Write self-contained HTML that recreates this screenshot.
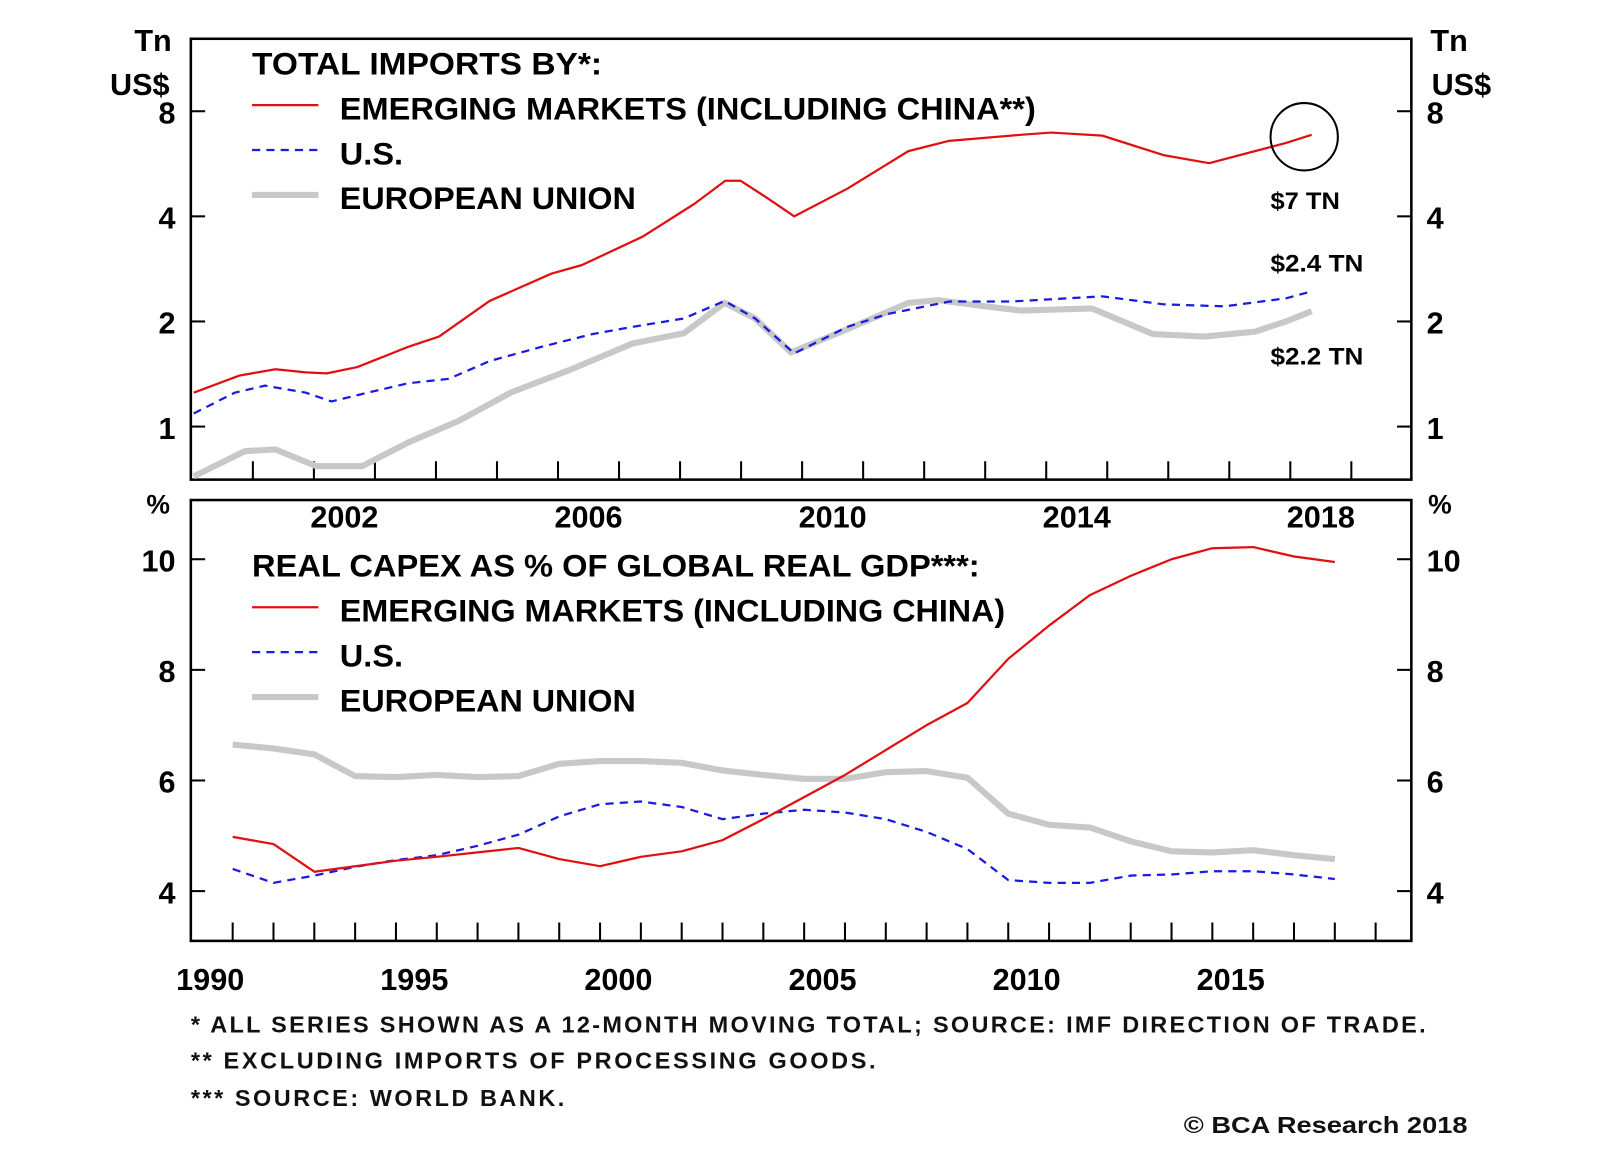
<!DOCTYPE html>
<html><head><meta charset="utf-8"><style>
body{margin:0;background:#fff;}
svg{display:block;font-family:"Liberation Sans",sans-serif;font-weight:bold;}
</style></head><body>
<svg id="c" width="1600" height="1152" viewBox="0 0 1600 1152"><g id="g" transform="scale(1.0205)"></g></svg>
<script>
// ---- Top panel data (Tn US$, log scale), x = fractional year ----
const topYearsEM=[2000.03,2000.78,2001.37,2001.87,2002.21,2002.71,2003.54,2004.05,2004.88,2005.89,2006.39,2007.39,2008.23,2008.74,2008.99,2009.40,2009.87,2010.74,2011.74,2012.41,2013.58,2014.08,2014.92,2015.92,2016.67,2017.42,2017.93,2018.35];
const topEM=[1.25,1.40,1.46,1.43,1.42,1.48,1.69,1.81,2.29,2.74,2.90,3.50,4.34,5.06,5.06,4.55,4.0,4.80,6.15,6.58,6.85,6.95,6.81,5.99,5.68,6.15,6.49,6.85];
const topYearsUS=[2000.03,2000.70,2001.20,2001.87,2002.29,2002.88,2003.54,2004.21,2004.88,2005.72,2006.56,2007.22,2008.06,2008.73,2009.23,2009.87,2010.74,2011.40,2012.41,2013.41,2014.92,2015.92,2016.92,2017.93,2018.35];
const topUS=[1.09,1.25,1.31,1.25,1.18,1.25,1.33,1.37,1.54,1.69,1.84,1.93,2.04,2.29,2.04,1.62,1.93,2.10,2.28,2.28,2.36,2.24,2.21,2.33,2.44];
const topYearsEU=[2000.03,2000.87,2001.37,2002.04,2002.79,2003.54,2004.38,2005.22,2006.22,2007.22,2008.06,2008.73,2009.23,2009.82,2010.74,2011.74,2012.24,2012.91,2013.58,2014.75,2015.75,2016.59,2017.42,2017.93,2018.35];
const topEU=[0.72,0.85,0.86,0.77,0.77,0.90,1.04,1.25,1.46,1.73,1.85,2.26,2.04,1.63,1.90,2.26,2.30,2.22,2.15,2.18,1.84,1.81,1.87,2.00,2.14];
const topTicks=[1,2,4,8];
const topXLabels=[2002,2006,2010,2014,2018];
// ---- Bottom panel data (% of GDP), annual ----
const botYears=[1990,1991,1992,1993,1994,1995,1996,1997,1998,1999,2000,2001,2002,2003,2004,2005,2006,2007,2008,2009,2010,2011,2012,2013,2014,2015,2016,2017];
const botEM=[4.98,4.85,4.35,4.45,4.55,4.62,4.70,4.78,4.58,4.45,4.62,4.72,4.92,5.30,5.70,6.10,6.55,7.00,7.40,8.20,8.80,9.35,9.70,10.0,10.2,10.22,10.05,9.95];
const botUS=[4.40,4.15,4.28,4.44,4.56,4.65,4.82,5.02,5.35,5.57,5.62,5.52,5.30,5.40,5.47,5.42,5.30,5.07,4.76,4.20,4.15,4.15,4.28,4.30,4.36,4.36,4.30,4.22];
const botEU=[6.65,6.58,6.47,6.08,6.06,6.10,6.06,6.08,6.30,6.35,6.35,6.32,6.18,6.10,6.03,6.03,6.15,6.17,6.05,5.40,5.20,5.15,4.90,4.72,4.70,4.74,4.65,4.58];
const botTicks=[4,6,8,10];
const botXLabels=[1990,1995,2000,2005,2010,2015];

const NS="http://www.w3.org/2000/svg";
const svg=document.getElementById('g');
function el(t,a,txt){const e=document.createElementNS(NS,t);for(const k in a)e.setAttribute(k,a[k]);if(txt!==undefined)e.textContent=txt;svg.appendChild(e);return e;}
const L=187,R=1383;
const tx=y=>188+59.8*(y-2000);
const ty=v=>418-103*Math.log2(v);
const bx=y=>228+40*(y-1990);
const by=v=>548-54.2*(v-10);

let f=el('rect',{x:L,y:38,width:R-L,height:432,fill:'none',stroke:'#000','stroke-width':2.5});

f=el('rect',{x:L,y:490,width:R-L,height:432,fill:'none',stroke:'#000','stroke-width':2.5});


for(let yr=2001;yr<=2019;yr++){const x=tx(yr);let t=el('line',{x1:x,x2:x,y1:470,y2:452,stroke:'#000','stroke-width':2});}
topXLabels.forEach(v=>{let t=el('text',{x:tx(v+0.5),y:517,'font-size':30,'text-anchor':'middle'},v);});
topTicks.forEach(v=>{const y=ty(v);
el('line',{x1:L,x2:L+14,y1:y,y2:y,stroke:'#000','stroke-width':2});el('line',{x1:R-14,x2:R,y1:y,y2:y,stroke:'#000','stroke-width':2});
let t=el('text',{x:172,y:y+12,'font-size':30,'text-anchor':'end'},v);
t=el('text',{x:1398,y:y+12,'font-size':30},v);});
[['Tn',150,50],['US$',137,93]].forEach(a=>{let t=el('text',{x:a[1],y:a[2],'font-size':30,'text-anchor':'middle'},a[0]);
t=el('text',{x:1420+(a[0]=='Tn'?0:12),y:a[2],'font-size':30,'text-anchor':'middle'},a[0]);});

for(let yr=1990;yr<=2018;yr++){const x=bx(yr);let t=el('line',{x1:x,x2:x,y1:922,y2:904,stroke:'#000','stroke-width':2});}
botXLabels.forEach(v=>{let t=el('text',{x:bx(v)-22,y:970,'font-size':30,'text-anchor':'middle'},v);});
botTicks.forEach(v=>{const y=by(v);
el('line',{x1:L,x2:L+14,y1:y,y2:y,stroke:'#000','stroke-width':2});el('line',{x1:R-14,x2:R,y1:y,y2:y,stroke:'#000','stroke-width':2});
let t=el('text',{x:172,y:y+12,'font-size':30,'text-anchor':'end'},v);
t=el('text',{x:1398,y:y+12,'font-size':30},v);});
let t=el('text',{x:155,y:503,'font-size':26,'text-anchor':'middle'},'%');
t=el('text',{x:1411,y:503,'font-size':26,'text-anchor':'middle'},'%');

function line(xs,vs,fx,fy,st,name){const d=xs.map((x,i)=>(i?'L':'M')+fx(x).toFixed(1)+','+fy(vs[i]).toFixed(1)).join('');
const p=el('path',Object.assign({d:d,fill:'none','stroke-linejoin':'round'},st));}
const sEU={stroke:'#c8c8c8','stroke-width':6},sUS={stroke:'#1a1ae0','stroke-width':2.2,'stroke-dasharray':'8,6'},sEM={stroke:'#e01010','stroke-width':2.2};
line(topYearsEU,topEU,tx,ty,sEU,'top-eu-line');
line(topYearsUS,topUS,tx,ty,sUS,'top-us-line');
line(topYearsEM,topEM,tx,ty,sEM,'top-em-line');
line(botYears,botEU,bx,by,sEU,'bottom-eu-line');
line(botYears,botUS,bx,by,sUS,'bottom-us-line');
line(botYears,botEM,bx,by,sEM,'bottom-em-line');

let c=el('circle',{cx:1278,cy:134,r:33,fill:'none',stroke:'#000','stroke-width':2});
[['$7 TN',1245,205,68],['$2.4 TN',1245,266,91],['$2.2 TN',1245,357,91]].forEach(a=>{let t=el('text',{x:a[1],y:a[2],'font-size':24,textLength:a[3],lengthAdjust:'spacingAndGlyphs'},a[0]);});

function legend(y0,title,tw,em,ew,name){let t=el('text',{x:247,y:y0,'font-size':31,textLength:tw,lengthAdjust:'spacingAndGlyphs'},title);
const items=[[em,sEM,ew],['U.S.',sUS,62],['EUROPEAN UNION',sEU,290]];
items.forEach((it,i)=>{const y=y0+44*(i+1);const l=el('line',Object.assign({x1:247,x2:312,y1:y-14,y2:y-14},it[1]));
let tt=el('text',{x:333,y:y,'font-size':31,textLength:it[2],lengthAdjust:'spacingAndGlyphs'},it[0]);});}
legend(73,'TOTAL IMPORTS BY*:',343,'EMERGING MARKETS (INCLUDING CHINA**)',682,'top-legend');
legend(565,'REAL CAPEX AS % OF GLOBAL REAL GDP***:',713,'EMERGING MARKETS (INCLUDING CHINA)',652,'bottom-legend');

[['*   ALL SERIES SHOWN AS A 12-MONTH MOVING TOTAL; SOURCE: IMF DIRECTION OF TRADE.',1012,1210],['**  EXCLUDING IMPORTS OF PROCESSING GOODS.',1047,671],['*** SOURCE: WORLD BANK.',1084,366]].forEach(a=>{let t=el('text',{x:187,y:a[1],'font-size':23,'xml:space':'preserve',textLength:a[2],lengthAdjust:'spacing',fill:'#111'},a[0]);});
t=el('text',{x:1160,y:1110,'font-size':23,textLength:278,lengthAdjust:'spacingAndGlyphs',fill:'#111'},'© BCA Research 2018');
</script>
</body></html>
